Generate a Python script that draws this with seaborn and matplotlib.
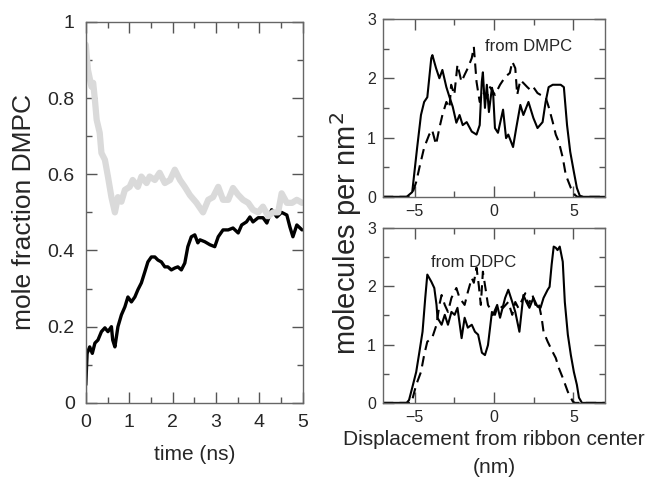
import matplotlib
matplotlib.use("Agg")
import matplotlib.pyplot as plt
import seaborn as sns
import numpy as np
import pandas as pd
from matplotlib.ticker import MultipleLocator

# left panel: mole fraction DMPC vs time
t_black = [0, 0.0, 0.03, 0.09, 0.15, 0.21, 0.28, 0.36, 0.44, 0.51, 0.59, 0.62, 0.67,
           0.74, 0.82, 0.9, 0.97, 1.05, 1.13, 1.2, 1.28, 1.36, 1.43, 1.51, 1.59, 1.66,
           1.74, 1.82, 1.89, 1.97, 2.05, 2.12, 2.2, 2.28, 2.35, 2.43, 2.51, 2.58, 2.63,
           2.74, 2.86, 2.97, 3.05, 3.16, 3.28, 3.39, 3.51, 3.59, 3.7, 3.78, 3.85, 3.97,
           4.08, 4.17, 4.28, 4.4, 4.51, 4.63, 4.7, 4.77, 4.86, 4.98]
y_black = [0, 0.095, 0.13, 0.147, 0.13, 0.157, 0.165, 0.187, 0.197, 0.187, 0.2, 0.165, 0.147,
           0.2, 0.231, 0.252, 0.278, 0.265, 0.278, 0.297, 0.315, 0.344, 0.37, 0.383, 0.383, 0.375,
           0.37, 0.357, 0.357, 0.349, 0.354, 0.357, 0.349, 0.367, 0.41, 0.436, 0.441, 0.42, 0.428,
           0.423, 0.415, 0.41, 0.436, 0.454, 0.454, 0.459, 0.446, 0.467, 0.475, 0.488, 0.475, 0.486,
           0.486, 0.472, 0.507, 0.488, 0.5, 0.493, 0.462, 0.436, 0.467, 0.454]

t_gray = [0, 0.05, 0.13, 0.17, 0.21, 0.25, 0.32, 0.36, 0.44, 0.51, 0.59, 0.67, 0.74, 0.82,
          0.9, 1.01, 1.08, 1.2, 1.28, 1.4, 1.47, 1.59, 1.7, 1.82, 1.94, 2.05, 2.17, 2.28,
          2.4, 2.55, 2.7, 2.82, 2.93, 3.05, 3.16, 3.28, 3.39, 3.51, 3.62, 3.74, 3.85, 3.97,
          4.08, 4.2, 4.31, 4.43, 4.51, 4.63, 4.75, 4.86, 4.98]
y_gray = [0.94, 0.874, 0.83, 0.84, 0.795, 0.743, 0.709, 0.656, 0.638, 0.594, 0.54, 0.5, 0.54, 0.528,
          0.559, 0.567, 0.585, 0.567, 0.594, 0.577, 0.594, 0.585, 0.604, 0.577, 0.585, 0.612, 0.585, 0.567,
          0.545, 0.525, 0.5, 0.533, 0.54, 0.567, 0.533, 0.533, 0.564, 0.546, 0.533, 0.525, 0.507, 0.5,
          0.515, 0.49, 0.5, 0.5, 0.55, 0.525, 0.525, 0.533, 0.525]

# right top: from DMPC
x_top_solid = [-7, -5.5, -5.15, -4.84, -4.6, -4.4, -4.2, -3.95, -3.88, -3.65, -3.44, -3.25, -3.0,
               -2.8, -2.6, -2.37, -2.17, -1.97, -1.72, -1.4, -1.1, -0.9, -0.77, -0.7, -0.57, -0.45,
               -0.32, -0.13, -0.06, 0.06, 0.25, 0.57, 0.76, 0.9, 1.2, 1.4, 1.66, 1.85, 2.17, 2.48,
               2.74, 3.06, 3.25, 3.44, 3.7, 4.2, 4.4, 4.6, 4.8, 5.03, 5.22, 5.4, 5.6, 7]
y_top_solid = [0, 0, 0.08, 0.83, 1.38, 1.6, 1.68, 2.34, 2.39, 2.17, 2.0, 2.14, 1.85,
               1.68, 1.52, 1.25, 1.38, 1.21, 1.26, 1.1, 1.05, 1.21, 1.94, 2.1, 1.5, 1.89,
               1.43, 1.84, 1.77, 1.16, 1.08, 1.47, 0.99, 1.05, 0.84, 1.16, 1.55, 1.38, 1.6, 1.33,
               1.16, 1.26, 1.6, 1.85, 1.89, 1.89, 1.85, 1.21, 0.76, 0.42, 0.15, 0.02, 0, 0]
x_top_dash = [-7, -5.3, -5.15, -4.9, -4.7, -4.4, -4.08, -3.9, -3.65, -3.44, -3.25, -3.0, -2.8,
              -2.7, -2.5, -2.3, -2.05, -1.85, -1.65, -1.4, -1.27, -1.1, -0.9, -0.7, -0.45, -0.25,
              0.06, 0.38, 0.7, 1.0, 1.15, 1.34, 1.46, 1.66, 1.85, 2.1, 2.3, 2.48, 2.74, 2.93,
              3.25, 3.44, 3.7, 3.89, 4.08, 4.33, 4.52, 4.84, 5.1, 5.25, 7]
y_top_dash = [0, 0, 0.05, 0.25, 0.49, 0.83, 1.05, 1.13, 0.88, 1.16, 1.38, 1.6, 1.5,
              1.89, 1.72, 2.23, 1.94, 2.06, 2.17, 2.34, 2.53, 1.94, 1.6, 1.77, 1.67, 1.85,
              1.72, 1.89, 2.02, 2.09, 2.28, 2.17, 1.72, 1.97, 1.92, 1.85, 1.8, 1.85, 1.75, 1.72,
              1.68, 1.52, 1.26, 1.05, 0.93, 0.66, 0.37, 0.15, 0.03, 0, 0]

# right bottom: from DDPC
x_bot_solid = [-7, -5.5, -5.35, -5.15, -4.9, -4.7, -4.5, -4.33, -4.2, -3.95, -3.76, -3.62, -3.56,
               -3.3, -3.1, -2.9, -2.68, -2.48, -2.3, -2.04, -1.85, -1.65, -1.4, -1.2, -1.0, -0.76,
               -0.57, -0.38, -0.13, -0.06, 0.2, 0.38, 0.7, 0.9, 1.15, 1.34, 1.6, 1.85, 2.04, 2.23,
               2.48, 2.74, 2.93, 3.12, 3.38, 3.5, 3.63, 3.76, 3.89, 4.0, 4.14, 4.33, 4.46, 4.65,
               4.84, 5.03, 5.22, 5.35, 5.54, 7]
y_bot_solid = [0, 0, 0.05, 0.26, 0.53, 0.87, 1.22, 1.8, 2.2, 2.08, 1.97, 1.68, 1.46,
               1.34, 1.51, 1.34, 1.56, 1.51, 1.63, 1.11, 1.46, 1.29, 1.34, 1.22, 1.17, 0.86,
               0.82, 0.99, 1.56, 1.51, 1.68, 1.46, 1.8, 1.94, 1.73, 1.56, 1.22, 1.85, 1.73, 1.63,
               1.8, 1.65, 1.63, 1.8, 1.94, 1.99, 2.37, 2.68, 2.66, 2.62, 2.68, 2.42, 1.73, 1.17,
               0.82, 0.53, 0.31, 0.09, 0, 0]
x_bot_dash = [-7, -5.2, -4.9, -4.6, -4.4, -4.2, -3.9, -3.62, -3.44, -3.3, -3.1, -2.9, -2.68,
              -2.37, -2.17, -1.85, -1.65, -1.4, -1.27, -1.1, -0.96, -0.83, -0.7, -0.5, -0.38, -0.13,
              0.06, 0.25, 0.57, 0.9, 1.15, 1.34, 1.53, 1.78, 1.97, 2.17, 2.42, 2.61, 2.8, 3.0,
              3.12, 3.38, 3.7, 3.89, 4.08, 4.33, 4.65, 4.97, 5.1, 7]
y_bot_dash = [0, 0, 0.31, 0.53, 0.82, 1.05, 1.11, 1.34, 1.68, 1.85, 1.68, 1.56, 1.8,
              1.97, 1.8, 1.68, 1.9, 2.14, 2.06, 2.32, 2.02, 1.68, 2.25, 1.9, 1.68, 1.56,
              1.51, 1.68, 1.63, 1.73, 1.51, 1.73, 1.63, 1.77, 1.88, 1.68, 1.85, 1.68, 1.73, 1.46,
              1.22, 1.05, 0.87, 0.77, 0.6, 0.43, 0.19, 0.02, 0, 0]


sns.set_style('ticks')
plt.rcParams['font.family'] = ['Liberation Sans', 'DejaVu Sans']


def style_axis(ax, xmaj, xmin, ymaj, ymin, labsize, pad):
    ax.xaxis.set_major_locator(MultipleLocator(xmaj))
    ax.xaxis.set_minor_locator(MultipleLocator(xmin))
    ax.yaxis.set_major_locator(MultipleLocator(ymaj))
    ax.yaxis.set_minor_locator(MultipleLocator(ymin))
    ax.tick_params(which='both', direction='in', top=True, right=True)
    ax.tick_params(which='major', length=8, width=1, color='#555555',
                   labelsize=labsize, pad=pad)
    ax.tick_params(which='minor', length=4, width=1, color='#555555')
    for s in ax.spines.values():
        s.set_color('#666666')
        s.set_linewidth(1)
    ax.set_xlabel('')
    ax.set_ylabel('')


fig = plt.figure(figsize=(6.5, 4.86), dpi=100)
axL = fig.add_axes([0.132, 0.171, 0.334, 0.784])
axT = fig.add_axes([0.589, 0.595, 0.342, 0.366])
axB = fig.add_axes([0.589, 0.171, 0.342, 0.36])

dfb = pd.DataFrame({'t': t_black, 'y': y_black})
dfg = pd.DataFrame({'t': t_gray, 'y': y_gray})
sns.lineplot(data=dfb, x='t', y='y', ax=axL, color='black', lw=2.4, sort=False)
sns.lineplot(data=dfg, x='t', y='y', ax=axL, color='#dadada', lw=4.5, sort=False)
style_axis(axL, 1, 0.5, 0.2, 0.1, 14, 8)
axL.set_xlim(0, 5)
axL.set_ylim(0, 1)
axL.yaxis.set_major_formatter(plt.FuncFormatter(lambda v, p: '%g' % round(v, 2)))
axL.set_xlabel('time (ns)', fontsize=15, labelpad=10)
axL.set_ylabel('mole fraction DMPC', fontsize=19, labelpad=8)

panels = [(axT, x_top_solid, y_top_solid, x_top_dash, y_top_dash, 'from DMPC', 2.2, 2.53),
          (axB, x_bot_solid, y_bot_solid, x_bot_dash, y_bot_dash, 'from DDPC', -1.3, 2.4)]
for ax, xs, ys, xd, yd, lab, lx, ly in panels:
    ds = pd.DataFrame({'x': xs, 'y': ys})
    dd = pd.DataFrame({'x': xd, 'y': yd})
    sns.lineplot(data=ds, x='x', y='y', ax=ax, color='black', lw=1.5, sort=False)
    sns.lineplot(data=dd, x='x', y='y', ax=ax, color='black', lw=1.5, sort=False)
    ax.lines[-1].set_dashes([5, 3])
    style_axis(ax, 5, 2.5, 1, 0.5, 11.5, 5)
    ax.set_xlim(-7, 7)
    ax.set_ylim(0, 3)
    ax.text(lx, ly, lab, fontsize=12, ha='center', va='center')

axB.set_xlabel('Displacement from ribbon center\n(nm)', fontsize=15, labelpad=4,
               linespacing=1.6)
fig.text(0.532, 0.52, 'molecules per nm$^2$', rotation=90, fontsize=21,
         ha='center', va='center')

fig.savefig('out.png', dpi=100)
